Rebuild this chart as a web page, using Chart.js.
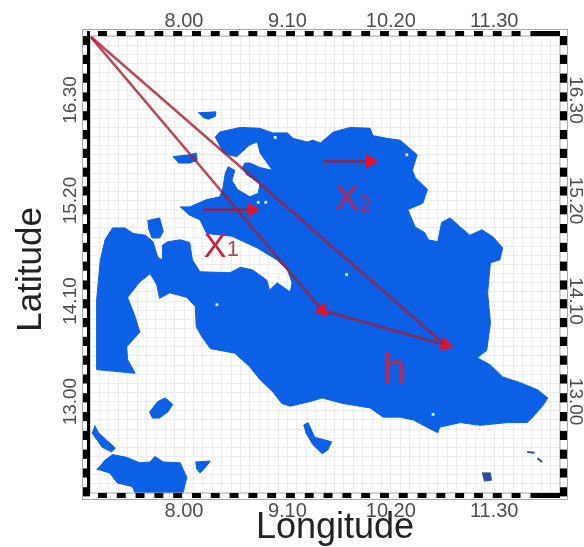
<!DOCTYPE html>
<html>
<head>
<meta charset="utf-8">
<style>
body { margin: 0; background: #fff; }
</style>
<script src="https://cdn.jsdelivr.net/npm/chart.js@4"></script>
</head>
<body>
<canvas id="mapChart" width="584" height="547"></canvas>
<script>
// tick labels on all four sides
const lonTicks = [8.0, 9.1, 10.2, 11.3];
const lonTickLabels = ['8.00', '9.10', '10.20', '11.30'];
const latTicks = [13.0, 14.1, 15.2, 16.3];
const latTickLabels = ['13.00', '14.10', '15.20', '16.30'];

// blue region outlines, [longitude, latitude]
const mainland = [
    [8.33,15.89],[8.38,15.95],[8.60,16.00],[8.81,15.99],[8.94,15.94],[9.10,15.94],[9.16,15.88],[9.31,15.84],
    [9.37,15.86],[9.45,15.83],[9.59,15.95],[9.77,16.00],[9.98,15.99],[10.01,15.91],[10.16,15.88],[10.30,15.86],
    [10.48,15.70],[10.43,15.53],[10.46,15.45],[10.59,15.32],[10.54,15.17],[10.38,15.10],[10.46,14.91],[10.56,14.85],
    [10.60,14.77],[10.70,14.75],[10.74,14.96],[10.83,15.01],[10.94,14.91],[11.04,14.82],[11.17,14.88],[11.29,14.80],
    [11.39,14.68],[11.36,14.55],[11.26,14.52],[11.23,14.19],[11.26,13.86],[11.22,13.56],[11.12,13.48],[11.26,13.40],
    [11.39,13.27],[11.57,13.21],[11.76,13.13],[11.87,13.04],[11.82,12.96],[11.71,12.83],[11.65,12.77],[11.44,12.77],
    [11.15,12.74],[10.94,12.77],[10.72,12.72],[10.70,12.66],[10.60,12.71],[10.44,12.80],[10.30,12.83],[10.12,12.83],
    [9.98,12.93],[9.69,12.98],[9.47,13.04],[9.34,13.00],[9.13,12.95],[9.04,12.98],[8.95,13.10],[8.81,13.24],
    [8.70,13.38],[8.54,13.53],[8.28,13.58],[8.19,13.71],[8.13,13.82],[8.12,14.04],[8.03,14.14],[7.85,14.19],
    [7.74,14.13],[7.71,14.28],[7.64,14.40],[7.53,14.31],[7.40,14.14],[7.48,13.93],[7.53,13.76],[7.39,13.60],
    [7.40,13.46],[7.48,13.31],[7.07,13.35],[7.07,14.11],[7.11,14.55],[7.16,14.77],[7.24,14.90],[7.37,14.90],
    [7.46,14.84],[7.59,14.82],[7.67,14.75],[7.72,14.58],[7.77,14.55],[7.77,14.71],[7.83,14.75],[7.96,14.77],
    [8.06,14.74],[8.09,14.55],[8.17,14.42],[8.49,14.41],[8.60,14.47],[8.73,14.44],[8.88,14.33],[8.91,14.22],
    [8.99,14.30],[9.13,14.20],[9.15,14.30],[9.10,14.44],[8.99,14.55],[8.78,14.68],[8.51,14.81],[8.24,14.84],
    [8.17,14.99],[8.06,15.04],[7.96,15.13],[8.06,15.13],[8.24,15.21],[8.38,15.24],[8.41,15.32],[8.44,15.50],
    [8.47,15.57],[8.54,15.53],[8.51,15.42],[8.57,15.32],[8.70,15.24],[8.79,15.28],[8.81,15.39],[8.67,15.48],
    [8.62,15.56],[8.65,15.61],[8.70,15.61],[8.81,15.56],[8.94,15.53],[8.81,15.72],[8.78,15.84],[8.70,15.81],
    [8.56,15.68],[8.47,15.70],[8.41,15.73]
];
const isleNorth = [[8.15,16.16],[8.34,16.17],[8.33,16.12],[8.26,16.09],[8.20,16.11]];
const isleWest = [[7.88,15.68],[8.06,15.70],[8.13,15.72],[8.14,15.64],[8.06,15.61],[7.94,15.61]];
const isleSmall = [[7.61,14.98],[7.74,15.01],[7.78,14.86],[7.74,14.79],[7.66,14.79],[7.62,14.90]];
const isleMiddle = [[7.63,12.88],[7.72,13.00],[7.80,13.04],[7.88,12.97],[7.83,12.89],[7.74,12.82],[7.66,12.82]];
const ribbonSW = [[7.05,12.74],[7.09,12.66],[7.27,12.49],[7.23,12.45],[7.13,12.50],[7.02,12.66]];
const landSW = [
    [7.07,12.25],[7.16,12.36],[7.24,12.42],[7.39,12.39],[7.53,12.33],[7.64,12.34],[7.69,12.40],[7.78,12.34],
    [7.96,12.33],[8.03,12.17],[7.99,12.0],[7.48,12.0],[7.45,12.07],[7.29,12.11],[7.21,12.22],[7.11,12.25]
];
const isleTriangle = [[8.12,12.34],[8.28,12.35],[8.22,12.27],[8.17,12.22],[8.13,12.27]];
const ribbonSouth = [[9.27,12.74],[9.32,12.77],[9.39,12.61],[9.57,12.56],[9.53,12.47],[9.47,12.43],[9.37,12.53],[9.29,12.67]];
const blueShapes = [mainland, isleNorth, isleWest, isleSmall, isleMiddle, ribbonSW, landSW, isleTriangle, ribbonSouth];

// darker specks in the south east
const speckSquare = [[11.17,12.22],[11.26,12.22],[11.27,12.14],[11.19,12.13]];
const speckDashA = [[11.65,12.45],[11.73,12.44]];
const speckDashB = [[11.76,12.38],[11.81,12.34]];

// little white holes inside the blue
const holePoints = [[8.35,14.06],[9.73,14.39],[10.65,12.86],[8.97,15.89],[10.37,15.70],[8.79,15.18],[8.87,15.18]];

// red vectors
const origin = [7.0, 17.0];
const vecA = [9.47, 14.0];
const vecB = [10.78, 13.62];
const x1Arrow = [[8.20, 15.10], [8.72, 15.10]];
const x2Arrow = [[9.48, 15.63], [9.98, 15.63]];

// letters placed on the map
const noteTexts = ['X', '1', 'X', '2', 'h'];
const noteLon = [8.33, 8.52, 9.73, 9.93, 10.24];
const noteLat = [14.69, 14.66, 15.21, 15.15, 13.33];

const toPoints = pairs => pairs.map(p => ({ x: p[0], y: p[1] }));

function arrowDataset(pairs, angle, head) {
    return {
        data: toPoints(pairs),
        showLine: true,
        fill: false,
        borderColor: 'rgba(170,25,45,0.8)',
        borderWidth: 2.5,
        pointStyle: 'triangle',
        pointRadius: head ? [0, 6] : 0,
        pointRotation: [0, angle],
        pointBackgroundColor: '#e0142c',
        pointBorderColor: '#e0142c',
        order: 1
    };
}

function shapeDataset(pairs, color) {
    return {
        data: toPoints(pairs),
        showLine: true,
        fill: 'shape',
        backgroundColor: color,
        borderColor: color,
        borderWidth: 1,
        pointRadius: 0,
        order: 5
    };
}

const datasets = [
    arrowDataset([origin, vecA], 140, true),
    arrowDataset([origin, vecB], 130, false),
    arrowDataset([vecA, vecB], 106, true),
    arrowDataset(x1Arrow, 90, true),
    arrowDataset(x2Arrow, 90, true),
    {
        data: toPoints(holePoints),
        showLine: false,
        pointStyle: 'rect',
        pointRadius: 2,
        pointBackgroundColor: '#dff0ff',
        pointBorderWidth: 0,
        order: 3
    }
];
blueShapes.forEach(s => datasets.push(shapeDataset(s, '#0b60e6')));
datasets.push(shapeDataset(speckSquare, '#2c4fa6'));
[speckDashA, speckDashB].forEach(s => {
    datasets.push({ data: toPoints(s), showLine: true, fill: false, borderColor: '#2c4f90', borderWidth: 2, pointRadius: 0, order: 4 });
});

function tickText(values, labels) {
    return function(value) {
        const i = values.findIndex(v => Math.abs(v - value) < 0.001);
        return i >= 0 ? labels[i] : '';
    };
}

// checkered band round the plot
const mapFrame = {
    id: 'mapFrame',
    afterDatasetsDraw(chart) {
        const ctx = chart.ctx;
        const { x, y } = chart.scales;
        const a = chart.chartArea;
        ctx.save();
        ctx.fillStyle = '#fff';
        ctx.fillRect(a.left - 7, a.top - 6, a.right - a.left + 14, 6);
        ctx.fillRect(a.left - 7, a.bottom, a.right - a.left + 14, 6);
        ctx.fillRect(a.left - 7, a.top - 6, 7, a.bottom - a.top + 12);
        ctx.fillRect(a.right, a.top - 6, 7, a.bottom - a.top + 12);

        ctx.strokeStyle = '#aaa';
        ctx.lineWidth = 1;
        ctx.strokeRect(a.left - 7.5, a.top - 6.5, a.right - a.left + 15, a.bottom - a.top + 13);
        ctx.strokeRect(a.left, a.top, a.right - a.left, a.bottom - a.top);

        ctx.fillStyle = '#000';
        for (let lon = 7.085; lon < 11.6; lon += 0.2) {
            const x0 = x.getPixelForValue(lon);
            const w = x.getPixelForValue(lon + 0.095) - x0;
            ctx.fillRect(x0, a.top - 5, w, 5);
            ctx.fillRect(x0, a.bottom, w, 5);
        }
        const lastBlack = x.getPixelForValue(11.685);
        ctx.fillRect(lastBlack, a.top - 5, a.right - lastBlack, 5);
        ctx.fillRect(lastBlack, a.bottom, a.right - lastBlack, 5);

        // left side has a solid inner column
        ctx.fillRect(a.left - 3, a.top - 5, 3, a.bottom - a.top + 5);
        for (let lat = 17.0; lat > 12.05; lat -= 0.2057) {
            const y0 = y.getPixelForValue(lat);
            const h = y.getPixelForValue(lat - 0.1) - y0;
            ctx.fillRect(a.left - 7, y0, 7, h);
            ctx.fillRect(a.right, y0, 7, h);
        }

        // letters
        ctx.textAlign = 'center';
        ctx.textBaseline = 'middle';
        const sizes = [34, 22, 34, 22, 44];
        const colors = ['#c8203c', '#a85058', '#c0204c', '#b02858', '#b02a5a'];
        noteTexts.forEach((t, i) => {
            ctx.font = sizes[i] + 'px "Liberation Sans"';
            ctx.fillStyle = colors[i];
            ctx.fillText(t, x.getPixelForValue(noteLon[i]), y.getPixelForValue(noteLat[i]));
        });
        ctx.restore();
    }
};

const gridColor = '#ececec';
const tickColor = '#4d4d4d';
const xFont = { family: '"Liberation Sans"', size: 20 };
const yFont = { family: '"Liberation Sans"', size: 19 };

new Chart(document.getElementById('mapChart').getContext('2d'), {
    type: 'scatter',
    data: { datasets: datasets },
    plugins: [mapFrame],
    options: {
        responsive: false,
        animation: false,
        layout: { autoPadding: false, padding: 0 },
        plugins: { legend: { display: false }, tooltip: { enabled: false } },
        scales: {
            x: {
                type: 'linear', position: 'bottom', min: 7, max: 12,
                afterFit: s => { s.height = 54; },
                grid: { color: gridColor, drawTicks: false },
                border: { display: false },
                ticks: { stepSize: 0.1, autoSkip: false, maxRotation: 0, padding: 6, color: tickColor, font: xFont, callback: tickText(lonTicks, lonTickLabels) },
                title: { display: true, text: '  Longitude', color: '#222', font: { family: '"Liberation Sans"', size: 36, lineHeight: 1 }, padding: { top: 0, bottom: 1 } }
            },
            xTop: {
                type: 'linear', position: 'top', min: 7, max: 12,
                afterFit: s => { s.height = 36; },
                grid: { display: false, drawTicks: false },
                border: { display: false },
                ticks: { stepSize: 0.1, autoSkip: false, maxRotation: 0, padding: 3, color: tickColor, font: xFont, callback: tickText(lonTicks, lonTickLabels) }
            },
            y: {
                type: 'linear', position: 'left', min: 12, max: 17,
                afterFit: s => { s.width = 90; },
                grid: { color: gridColor, drawTicks: false },
                border: { display: false },
                ticks: { stepSize: 0.1, autoSkip: false, minRotation: 90, crossAlign: 'center', padding: -5, color: tickColor, font: yFont, callback: tickText(latTicks, latTickLabels) },
                title: { display: true, text: 'Latitude ', color: '#222', font: { family: '"Liberation Sans"', size: 35, lineHeight: 1 }, padding: { top: 14, bottom: 0 } }
            },
            yRight: {
                type: 'linear', position: 'right', min: 12, max: 17,
                afterFit: s => { s.width = 24; },
                grid: { display: false, drawTicks: false },
                border: { display: false },
                ticks: { stepSize: 0.1, autoSkip: false, minRotation: -90, crossAlign: 'center', padding: -9, color: tickColor, font: yFont, callback: tickText(latTicks, latTickLabels) }
            }
        }
    }
});
</script>
</body>
</html>
